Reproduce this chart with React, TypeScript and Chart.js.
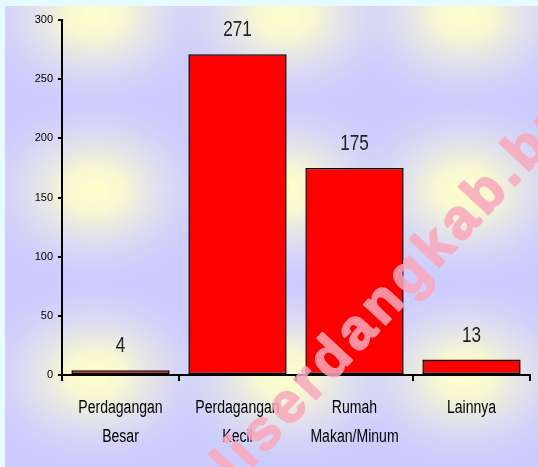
import React, { useEffect, useRef } from "react";
import { Chart, registerables } from "chart.js";

Chart.register(...registerables);

const categories: string[][] = [
  ["Perdagangan", "Besar"],
  ["Perdagangan", "Kecil"],
  ["Rumah", "Makan/Minum"],
  ["Lainnya"],
];
const values: number[] = [4, 271, 175, 13];
const yTicks: number[] = [0, 50, 100, 150, 200, 250, 300];
const watermarkText = "deliserdangkab.bps.go.id";

const CANVAS_W = 533;
const CANVAS_H = 461;
const OFFSET_X = 5;
const OFFSET_Y = 6;
const SQUEEZE = 0.78;

const backgroundPlugin = {
  id: "texture",
  beforeDraw(chart: any) {
    const ctx = chart.ctx as CanvasRenderingContext2D;
    ctx.save();
    ctx.fillStyle = "#ccccff";
    ctx.fillRect(0, 0, chart.width, chart.height);
    const xs = [95, 285, 465];
    const ys = [15, 190, 375];
    for (const py of ys) {
      for (const px of xs) {
        const cx = px - OFFSET_X;
        const cy = py - OFFSET_Y;
        ctx.save();
        ctx.translate(cx, cy);
        ctx.scale(1.15, 0.9);
        const g = ctx.createRadialGradient(0, 0, 0, 0, 0, 100);
        g.addColorStop(0, "rgba(255,255,204,1)");
        g.addColorStop(0.25, "rgba(252,252,206,0.9)");
        g.addColorStop(0.6, "rgba(238,238,225,0.5)");
        g.addColorStop(1, "rgba(220,220,240,0)");
        ctx.fillStyle = g;
        ctx.fillRect(-100, -100, 200, 200);
        ctx.restore();
      }
    }
    ctx.restore();
  },
};

const labelPlugin = {
  id: "valueLabels",
  afterDatasetsDraw(chart: any) {
    const ctx = chart.ctx as CanvasRenderingContext2D;
    const meta = chart.getDatasetMeta(0);
    ctx.save();
    ctx.font = '22px "Liberation Sans", Arial, sans-serif';
    ctx.fillStyle = "#222";
    ctx.textAlign = "center";
    ctx.textBaseline = "middle";
    meta.data.forEach((el: any, i: number) => {
      ctx.save();
      ctx.translate(el.x, el.y - 24);
      ctx.scale(SQUEEZE, 1);
      ctx.fillText(String(values[i]), 0, 0);
      ctx.restore();
    });
    ctx.restore();
  },
};

const xLabelPlugin = {
  id: "xLabels",
  afterDraw(chart: any) {
    const ctx = chart.ctx as CanvasRenderingContext2D;
    const xs = chart.scales.x;
    ctx.save();
    ctx.font = '18px "Liberation Sans", Arial, sans-serif';
    ctx.fillStyle = "#000";
    ctx.textAlign = "center";
    ctx.textBaseline = "middle";
    const y0 = xs.bottom - 92 + 33;
    categories.forEach((lines, i) => {
      const x = xs.getPixelForValue(i);
      lines.forEach((line, j) => {
        ctx.save();
        ctx.translate(x, y0 + j * 29);
        ctx.scale(SQUEEZE, 1);
        ctx.fillText(line, 0, 0);
        ctx.restore();
      });
    });
    ctx.restore();
  },
};

const watermarkPlugin = {
  id: "watermark",
  afterDraw(chart: any) {
    const ctx = chart.ctx as CanvasRenderingContext2D;
    ctx.save();
    ctx.font = 'bold 56px "Liberation Sans", Arial, sans-serif';
    (ctx as any).letterSpacing = "5px";
    ctx.fillStyle = "rgba(250,168,188,0.85)";
    ctx.strokeStyle = "rgba(250,168,188,0.85)";
    ctx.lineWidth = 2;
    ctx.lineJoin = "round";
    ctx.textBaseline = "alphabetic";
    ctx.textAlign = "left";
    const pre = ctx.measureText("deli").width;
    ctx.translate(264 - OFFSET_X, 455 - OFFSET_Y);
    ctx.rotate((-47 * Math.PI) / 180);
    ctx.globalAlpha = 1;
    // draw as one layer so stroke and fill don't double the tint
    const off = document.createElement("canvas");
    off.width = chart.width;
    off.height = chart.height;
    const o = off.getContext("2d") as CanvasRenderingContext2D;
    o.font = ctx.font;
    (o as any).letterSpacing = "5px";
    o.fillStyle = "rgb(250,168,188)";
    o.strokeStyle = "rgb(250,168,188)";
    o.lineWidth = 2;
    o.lineJoin = "round";
    o.textBaseline = "alphabetic";
    o.textAlign = "left";
    o.setTransform(ctx.getTransform());
    o.fillText(watermarkText, -pre, 0);
    o.strokeText(watermarkText, -pre, 0);
    ctx.setTransform(1, 0, 0, 1, 0, 0);
    ctx.globalAlpha = 0.85;
    ctx.drawImage(off, 0, 0);
    ctx.restore();
  },
};

export default function App() {
  const canvasRef = useRef<HTMLCanvasElement | null>(null);

  useEffect(() => {
    if (!canvasRef.current) return;
    const chart = new Chart(canvasRef.current, {
      type: "bar",
      data: {
        labels: categories,
        datasets: [
          {
            data: values,
            backgroundColor: "#ff0000",
            borderColor: "#000000",
            borderWidth: 1.5,
            borderSkipped: false,
            categoryPercentage: 1,
            barPercentage: 0.84,
          },
        ],
      },
      options: {
        responsive: false,
        animation: false,
        layout: { padding: { top: 14, right: 8, left: 0, bottom: 0 } },
        plugins: {
          legend: { display: false },
          tooltip: { enabled: false },
        },
        scales: {
          x: {
            offset: true,
            border: { display: true, color: "#000", width: 2 },
            grid: {
              offset: true,
              drawOnChartArea: false,
              drawTicks: true,
              tickLength: 6,
              color: "#000",
              lineWidth: 2,
            },
            ticks: {
              color: "rgba(0,0,0,0)",
              font: { size: 18 },
              maxRotation: 0,
              autoSkip: false,
            },
            afterFit(scale: any) {
              scale.height = 92;
            },
          },
          y: {
            min: yTicks[0],
            max: yTicks[yTicks.length - 1],
            border: { display: true, color: "#000", width: 2 },
            grid: {
              drawOnChartArea: false,
              drawTicks: true,
              tickLength: 4,
              color: "#000",
              lineWidth: 2,
            },
            ticks: {
              stepSize: yTicks[1] - yTicks[0],
              color: "#000",
              font: { family: 'Arial, "Liberation Sans", sans-serif', size: 11 },
              padding: 5,
            },
            afterFit(scale: any) {
              scale.width = 57;
            },
          },
        },
      },
      plugins: [backgroundPlugin, labelPlugin, xLabelPlugin, watermarkPlugin],
    });
    return () => chart.destroy();
  }, []);

  return (
    <div
      style={{
        position: "fixed",
        left: 0,
        top: 0,
        width: 538,
        height: 467,
        background: "#e6faff",
        overflow: "hidden",
      }}
    >
      <canvas
        ref={canvasRef}
        width={CANVAS_W}
        height={CANVAS_H}
        style={{ position: "absolute", left: OFFSET_X, top: OFFSET_Y, display: "block", width: CANVAS_W, height: CANVAS_H }}
      />
    </div>
  );
}
